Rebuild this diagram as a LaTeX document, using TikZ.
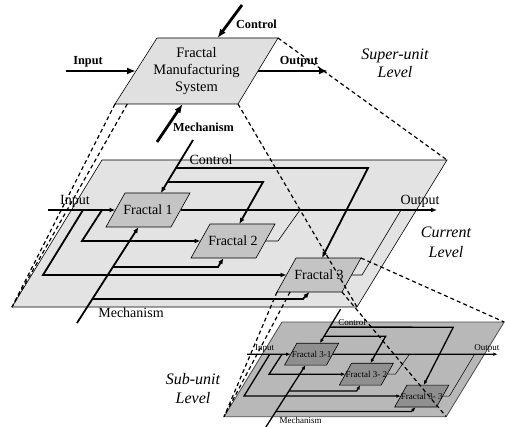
\documentclass[tikz,border=0pt]{standalone}
\usepackage{fontspec}
\setmainfont{Liberation Serif}
\usetikzlibrary{arrows.meta,calc}
\definecolor{topfill}{gray}{0.88}
\definecolor{planeA}{gray}{0.89}
\definecolor{fracA}{gray}{0.77}
\definecolor{planeB}{gray}{0.72}
\definecolor{fracB}{gray}{0.56}
\tikzset{
  planeS/.style={draw=black, line width=0.6pt},
  fracS/.style={draw=black, line width=0.6pt},
  fractext/.style={font=\fontsize{14}{16}\selectfont, inner sep=0pt},
  conn/.style={line width=1.8pt, -{Latex[length=6pt,width=5pt]}},
  thinline/.style={line width=0.6pt},
  lbl/.style={font=\fontsize{14}{16}\selectfont, inner sep=0pt},
  boldlbl/.style={font=\bfseries\fontsize{12.3}{14}\selectfont, inner sep=0pt},
  levellbl/.style={font=\itshape\fontsize{16}{18}\selectfont, align=center, inner sep=0pt},
  bigarrow/.style={line width=2.8pt, -{Latex[length=9pt,width=7pt]}},
  dashline/.style={dashed, dash pattern=on 4pt off 3pt, line width=1.2pt},
  toptext/.style={align=center, inner sep=0pt, font=\fontsize{14.5}{17}\selectfont}
}
% parallelogram box: name, centre, fill, text
\newcommand\fracbox[4]{%
  \path (#2) coordinate (#1c) ++(-23,-17) coordinate (#1tl) ++(65,0) coordinate (#1tr)
        ++(-19,34) coordinate (#1br) ++(-65,0) coordinate (#1bl);
  \path[fracS, fill=#3] (#1tl) -- (#1tr) -- (#1br) -- (#1bl) -- cycle;
  \coordinate (#1L) at ($(#1tl)!0.5!(#1bl)$);
  \coordinate (#1R) at ($(#1tr)!0.5!(#1br)$);
  \coordinate (#1T) at ($(#1tl)!0.5!(#1tr)$);
  \coordinate (#1B) at ($(#1bl)!0.5!(#1br)$);
  \node[fractext] (#1) at (#1c) {#4};
}
\newcommand\fractallevel[6]{%
  \coordinate (#1p1) at (0,0);
  \coordinate (#1p2) at (345,0);
  \coordinate (#1p3) at (255,147);
  \coordinate (#1p4) at (-90,147);
  \path[planeS, fill=#2] (#1p1) -- (#1p2) -- (#1p3) -- (#1p4) -- cycle;
  \fracbox{#1f1}{46,50}{#3}{#4}
  \fracbox{#1f2}{131,81}{#3}{#5}
  \fracbox{#1f3}{217,115}{#3}{#6}
  \node[lbl] (#1lin) at (-27,41) {Input};
  \node[lbl] (#1lout) at (318,41) {Output};
  \node[lbl] (#1lctl) at (109,0) {Control};
  \node[lbl] (#1lmech) at (29,153) {Mechanism};
  \coordinate (#1in) at (-54,50);
  \coordinate (#1ina) at (-19,50);
  \coordinate (#1inb) at (0,50);
  \coordinate (#1out) at (335,50);
  \coordinate (#1outa) at (198,50);
  \coordinate (#1outb) at (299,50);
  \coordinate (#1ctl) at (91,-20);
  \coordinate (#1mech) at (-25,163);
  \coordinate (#1f1Tc) at ($(#1f1tl)!0.55!(#1f1tr)$);
  \coordinate (#1f2Tc) at ($(#1f2tl)!0.45!(#1f2tr)$);
  \coordinate (#1f3Tc) at ($(#1f3tl)!0.4!(#1f3tr)$);
  \coordinate (#1cb1) at ($(#1ctl)!0.528!(#1f1Tc)$);
  \coordinate (#1cb2) at ($(#1ctl)!0.792!(#1f1Tc)$);
  \coordinate (#1mb1) at ($(#1mech)!0.583!(#1f1B)$);
  \coordinate (#1mb2) at ($(#1mech)!0.25!(#1f1B)$);
  % input
  \draw[conn] (#1in) -- (#1f1L);
  \draw[conn] (#1ina) -- (-59,115) -- (#1f3L);
  \draw[conn] (#1inb) -- (-20,81) -- (#1f2L);
  % control
  \draw[conn] (#1ctl) -- (#1f1Tc);
  \draw[conn] (#1cb1) -- (266,8) -- (#1f3Tc);
  \draw[conn] (#1cb2) -- (161,22) -- (#1f2Tc);
  % mechanism
  \draw[conn] (#1mech) -- (#1f1B);
  \draw[conn] (#1mb1) -- (116,107) -- (#1f2B);
  \draw[conn] (#1mb2) -- (201,139) -- (#1f3B);
  % output
  \draw[conn] (#1f1R) -- (#1out);
  \draw[thinline] (#1f2R) -- (176,81) -- (#1outa);
  \draw[thinline] (#1f3R) -- (260,115) -- (#1outb);
}
\begin{document}
\begin{tikzpicture}[x=1pt,y=-1pt]
\useasboundingbox (0,0) rectangle (505,427);
% super-unit level
\coordinate (fmstl) at (157,38);
\coordinate (fmstr) at (278,38);
\coordinate (fmsbr) at (238,104);
\coordinate (fmsbl) at (115,104);
\path[fracS, fill=topfill] (fmstl) -- (fmstr) -- (fmsbr) -- (fmsbl) -- cycle;
\node[toptext] (fms) at (196.5,71.5) {Fractal\\Manufacturing\\System};
\coordinate (fmsL) at ($(fmstl)!0.5!(fmsbl)$);
\coordinate (fmsR) at ($(fmstr)!0.5!(fmsbr)$);
\coordinate (fmsT) at ($(fmstl)!0.5!(fmstr)$);
\coordinate (fmsB) at ($(fmsbl)!0.55!(fmsbr)$);
\coordinate (fmsBL2) at ($(fmsbl)!0.1!(fmsbr)$);
\coordinate (topin) at (66,71);
\coordinate (topout) at (328,71);
\coordinate (topctl) at (242,5);
\coordinate (topmech) at (157,142);
\draw[bigarrow] (topin) -- (fmsL);
\draw[bigarrow] (fmsR) -- (topout);
\draw[bigarrow] (topctl) -- (fmsT);
\draw[bigarrow] (topmech) -- (fmsB);
\node[boldlbl] (tlin) at (88,62) {Input};
\node[boldlbl] (tlout) at (299,62) {Output};
\node[boldlbl] (tlctl) at (256.5,24) {Control};
\node[boldlbl] (tlmech) at (203.5,127) {Mechanism};
\node[levellbl] (lvsup) at (395,63) {Super-unit\\Level};
% current level
\begin{scope}[shift={(102,160)}]
\fractallevel{c}{planeA}{fracA}{Fractal 1}{Fractal 2}{Fractal 3}
\end{scope}
\node[levellbl, font=\itshape\fontsize{16}{20}\selectfont] (lvcur) at (446,242) {Current\\Level};
% sub-unit level
\begin{scope}[shift={(282,322)}, scale=0.644, transform shape,
  conn/.style={line width=1.3pt, -{Latex[length=4.5pt,width=3.6pt]}},
  thinline/.style={line width=0.5pt},
  planeS/.style={draw=black!70, line width=0.8pt}]
\fractallevel{s}{planeB}{fracB}{Fractal 3-1}{Fractal 3- 2}{Fractal 3- 3}
\end{scope}
\node[levellbl, font=\itshape\fontsize{16}{19}\selectfont] (lvsub) at (193,389) {Sub-unit\\Level};
% projection lines
\coordinate (cf3BL2) at ($(cf3bl)!0.2!(cf3br)$);
\draw[dashline] (fmstr) -- (cp2);
\draw[dashline] (fmsbr) -- (cp3);
\draw[dashline] (fmsbl) -- (cp4);
\draw[dashline] (fmsBL2) -- (cp4);
\draw[dashline] (cf3tr) -- (sp2);
\draw[dashline] (cf3br) -- (sp3);
\draw[dashline] (cf3bl) -- (sp4);
\draw[dashline] (cf3BL2) -- (sp4);
\end{tikzpicture}
\end{document}
